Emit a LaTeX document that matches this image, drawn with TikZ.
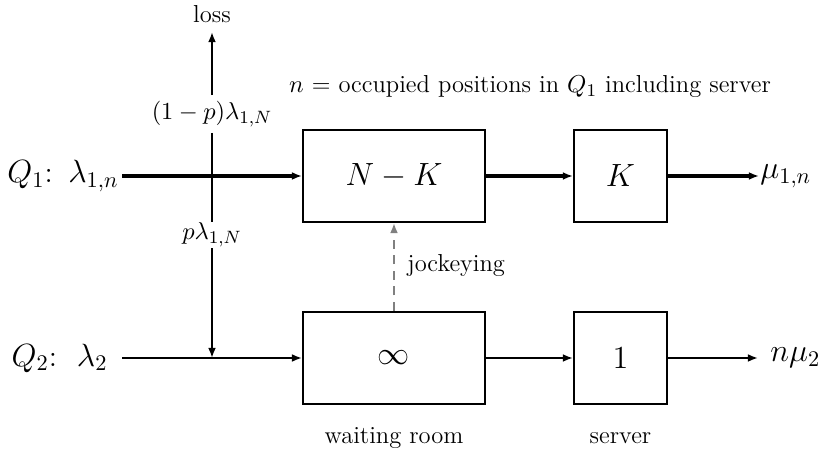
\documentclass[tikz,border=0pt]{standalone}
\usetikzlibrary{arrows.meta}
\begin{document}
\begin{tikzpicture}[x=0.448pt,y=-0.448pt,
  every node/.style={font=\fontsize{11}{13}\selectfont},
  big/.style={font=\fontsize{13.6}{16}\selectfont},
  boxw/.style={draw,line width=0.9pt,minimum width=81.5pt,minimum height=41.2pt,inner sep=0pt,big},
  boxn/.style={draw,line width=0.9pt,minimum width=41.7pt,minimum height=41.2pt,inner sep=0pt,big},
  thickflow/.style={line width=1.4pt,-{Latex[length=4.5pt,width=3.5pt]}},
  flow/.style={line width=0.85pt,-{Latex[length=4.5pt,width=3.5pt]}},
  lab/.style={inner sep=0pt}]
\useasboundingbox (0,0) rectangle (826,464);
% boxes
\node[boxw] (nk) at (394,176) {$N-K$};
\node[boxn] (k) at (620.5,176) {$K$};
\node[boxw] (inf) at (394,358) {$\infty$};
\node[boxn] (one) at (620.5,358) {$1$};
% left labels
\node[lab,anchor=east,big] (q1) at (119,176) {$Q_1$:\ \hspace{2.5pt}$\lambda_{1,n}$};
\node[lab,anchor=east,big] (q2) at (108,358) {$Q_2$:\ \ $\lambda_2$};
\coordinate (a1) at (122,176);
\coordinate (a2) at (122,358);
\coordinate (m2) at (212,358);
\coordinate (o1) at (759,176);
\coordinate (o2) at (758,358);
% split labels
\node[lab] (loss) at (212,14) {loss};
\node[lab,minimum height=37pt*0.448] (l1) at (212,114) {$(1-p)\lambda_{1,N}$};
\node[lab,minimum height=26pt*0.448] (l2) at (212,235) {$p\lambda_{1,N}$};
% outputs
\node[lab,anchor=west,big] (mu1) at (760,176) {$\mu_{1,n}$};
\node[lab,anchor=west,big] (mu2) at (770,358) {$n\mu_2$};
% other texts
\node[lab] (note) at (530,87) {$n$ = occupied positions in $Q_1$ including server};
\node[lab] (wr) at (394,438) {waiting room};
\node[lab] (sv) at (620.5,438) {server};
\node[lab,anchor=west] (jk) at (407,265) {jockeying};
% connectors
\draw[thickflow] (a1) -- (nk);
\draw[thickflow] (nk) -- (k);
\draw[thickflow] (k) -- (o1);
\draw[flow] (a2) -- (inf);
\draw[flow] (inf) -- (one);
\draw[flow] (one) -- (o2);
\draw[line width=0.85pt] (l1.south) -- (l2.north);
\draw[flow] (l1.north) -- ([yshift=-4pt]loss.south);
\draw[flow] (l2.south) -- (m2);
\draw[flow,gray,dash pattern=on 4pt off 3pt] (inf) -- (nk);
\end{tikzpicture}
\end{document}
